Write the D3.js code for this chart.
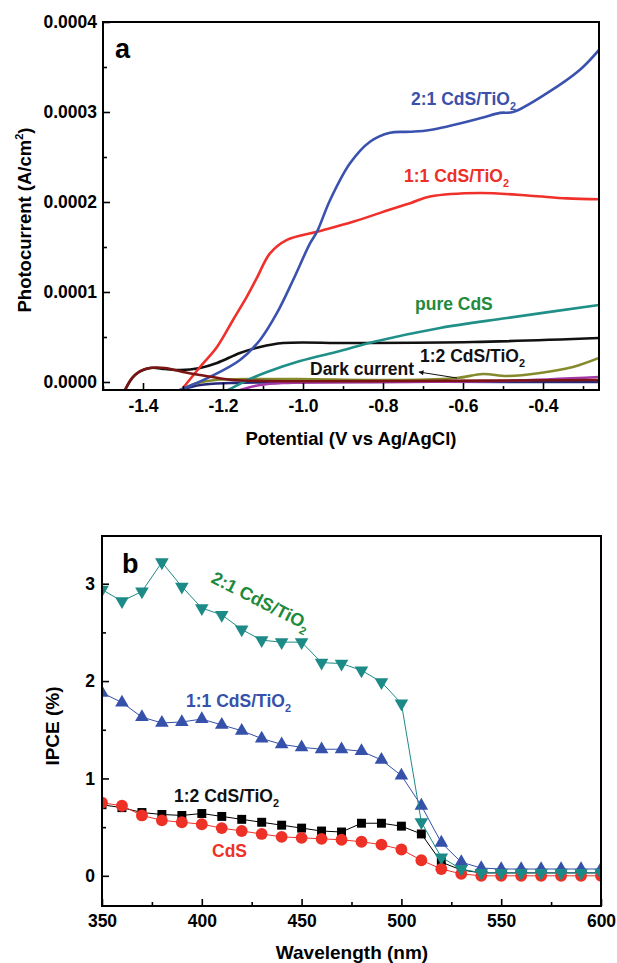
<!DOCTYPE html>
<html>
<head>
<meta charset="utf-8">
<script src="https://cdn.jsdelivr.net/npm/d3@7"></script>
<style>
  body { margin: 0; background: #fff; }
  svg text { font-family: "Liberation Sans", Arial, sans-serif; font-weight: bold; }
</style>
</head>
<body>
<svg width="617" height="963"></svg>
<script>
// ---- panel a: photocurrent vs potential, points are [V vs Ag/AgCl, A/cm2]
const ratio21Curve = [
  [-1.3075, -0.0000089], [-1.2325, 0.0000056], [-1.1575, 0.0000244], [-1.1075, 0.0000467],
  [-1.065, 0.0000767], [-1.025, 0.000113], [-0.9825, 0.000154], [-0.965, 0.000167],
  [-0.9325, 0.000202], [-0.8825, 0.000243], [-0.8325, 0.000267], [-0.7825, 0.000277],
  [-0.7325, 0.000278], [-0.6825, 0.00028], [-0.5575, 0.000293], [-0.5075, 0.000299],
  [-0.475, 0.0003], [-0.39, 0.000321], [-0.3075, 0.000347], [-0.26, 0.000369]
];
const ratio11Curve = [
  [-1.3, -0.0000067], [-1.2575, 0.0000167], [-1.215, 0.0000389], [-1.175, 0.0000689],
  [-1.14, 0.0000951], [-1.115, 0.000116], [-1.0825, 0.000143], [-1.04, 0.000158],
  [-0.965, 0.000167], [-0.875, 0.000178], [-0.78, 0.000192], [-0.73, 0.000199],
  [-0.6825, 0.000206], [-0.5575, 0.00021], [-0.4325, 0.000207], [-0.34, 0.000204],
  [-0.26, 0.000203]
];
const pureCdsCurve = [
  [-1.1875, -0.0000089], [-1.1575, -0.000002], [-1.1325, 0.0000033], [-1.09, 0.0000111],
  [-1.0075, 0.0000233], [-0.9075, 0.0000344], [-0.825, 0.0000444], [-0.6575, 0.00006],
  [-0.49, 0.0000711], [-0.26, 0.0000856]
];
const blackCurve = [
  [-1.445, -0.0000089], [-1.42, 0.0000078], [-1.3825, 0.0000156], [-1.345, 0.0000144],
  [-1.3075, 0.0000133], [-1.2575, 0.0000156], [-1.215, 0.0000211], [-1.1575, 0.0000322],
  [-1.1075, 0.0000389], [-1.05, 0.0000433], [-0.8825, 0.0000433], [-0.575, 0.0000444],
  [-0.26, 0.0000489]
];
const ratio12Curve = [
  [-1.3075, -0.0000089], [-1.27, -0.000002], [-1.22, 0.0000022], [-1.1075, 0.0000033],
  [-1.0075, 0.0000033], [-0.7575, 0.0000022], [-0.615, 0.0000044], [-0.55, 0.0000089],
  [-0.49, 0.0000067], [-0.4075, 0.00001], [-0.325, 0.0000167], [-0.26, 0.0000267]
];
const darkNavyCurve = [
  [-1.3075, -0.0000089], [-1.2575, -0.0000033], [-1.1825, -0.0000011], [-1.0, 0], [-0.26, 0]
];
const darkPurpleCurve = [
  [-1.1575, -0.0000089], [-1.1075, -0.0000033], [-1.05, -0.0000011], [-0.7575, 0],
  [-0.5075, 0.0000011], [-0.26, 0.0000056]
];
const darkMaroonCurve = [
  [-1.445, -0.0000089], [-1.4275, 0.0000044], [-1.4075, 0.0000122], [-1.3825, 0.0000156],
  [-1.345, 0.0000156], [-1.3, 0.0000111], [-1.2575, 0.0000078], [-1.175, 0.0000022],
  [-1.09, 0.0000011], [-0.7575, 0.0000011], [-0.26, 0.0000022]
];
const potentialTicks = [-1.4, -1.2, -1.0, -0.8, -0.6, -0.4];
const potentialMinor = [-1.5, -1.3, -1.1, -0.9, -0.7, -0.5, -0.3];
const currentTicks = [0, 0.0001, 0.0002, 0.0003, 0.0004];
const currentMinor = [0.00005, 0.00015, 0.00025, 0.00035];

// ---- panel b: IPCE vs wavelength
const wavelengths = [350, 360, 370, 380, 390, 400, 410, 420, 430, 440, 450, 460, 470,
  480, 490, 500, 510, 520, 530, 540, 550, 560, 570, 580, 590, 600];
const ipce21 = [2.94, 2.82, 2.92, 3.22, 2.97, 2.75, 2.68, 2.53, 2.42, 2.40, 2.40, 2.19, 2.18,
  2.11, 1.99, 1.77, 0.55, 0.19, 0.07, 0.03, 0.03, 0.03, 0.03, 0.03, 0.03, 0.03];
const ipce11 = [1.88, 1.78, 1.63, 1.57, 1.58, 1.61, 1.55, 1.49, 1.41, 1.35, 1.32, 1.30, 1.30,
  1.28, 1.19, 1.03, 0.72, 0.34, 0.14, 0.08, 0.07, 0.07, 0.07, 0.07, 0.07, 0.07];
const ipce12 = [0.73, 0.70, 0.65, 0.63, 0.62, 0.64, 0.61, 0.58, 0.55, 0.52, 0.49, 0.46, 0.45,
  0.54, 0.54, 0.51, 0.43, 0.14, 0.06, 0.03, 0.03, 0.03, 0.03, 0.03, 0.03, 0.03];
const ipceCds = [0.75, 0.72, 0.62, 0.57, 0.55, 0.53, 0.49, 0.46, 0.43, 0.40, 0.39, 0.38, 0.37,
  0.35, 0.32, 0.27, 0.16, 0.07, 0.02, 0.0, 0.0, 0.0, 0.0, 0.0, 0.0, 0.0];
const wavelengthTicks = [350, 400, 450, 500, 550, 600];
const wavelengthMinor = [375, 425, 475, 525, 575];
const ipceTicks = [0, 1, 2, 3];
const ipceMinor = [0.5, 1.5, 2.5];

const FONT = "'Liberation Sans', Arial, sans-serif";
const svg = d3.select("svg");
const defs = svg.append("defs");

// draws ticks pointing into the plot, no domain line (frame is drawn separately)
function addAxis(axis, pos, fontSize) {
  const g = svg.append("g")
    .attr("transform", pos)
    .call(axis)
    .attr("font-size", fontSize)
    .attr("font-family", FONT);
  g.select(".domain").remove();
  g.selectAll(".tick line").attr("stroke-width", 1.6);
  return g;
}

function addLabel(x, y, main, sub, color, size, rotate) {
  const t = svg.append("text")
    .attr("transform", `translate(${x},${y})` + (rotate ? ` rotate(${rotate})` : ""))
    .attr("fill", color)
    .attr("font-size", size)
    .text(main);
  if (sub) {
    t.append("tspan").attr("font-size", size * 0.62).attr("dy", 5).text(sub);
  }
  return t;
}

// ================= panel a =================
const xA = d3.scaleLinear().domain([-1.5, -0.26]).range([103, 599]);
const yA = d3.scaleLinear().domain([-0.0000089, 0.0004]).range([390, 22]);

defs.append("clipPath").attr("id", "clipA")
  .append("rect").attr("x", 103).attr("y", 22).attr("width", 496).attr("height", 368);

const lineA = d3.line()
  .x(d => xA(d[0]))
  .y(d => yA(d[1]))
  .curve(d3.curveCatmullRom.alpha(0.5));

const seriesA = [
  { data: darkNavyCurve, color: "#26287a" },
  { data: darkPurpleCurve, color: "#a43aa8" },
  { data: ratio12Curve, color: "#858a2c" },
  { data: blackCurve, color: "#111111" },
  { data: pureCdsCurve, color: "#1f8f88" },
  { data: ratio11Curve, color: "#f0302a" },
  { data: ratio21Curve, color: "#3a52ae" },
  { data: darkMaroonCurve, color: "#7c1414" }
];

svg.append("g").attr("clip-path", "url(#clipA)")
  .selectAll("path")
  .data(seriesA)
  .enter()
  .append("path")
  .attr("d", d => lineA(d.data))
  .attr("fill", "none")
  .attr("stroke", d => d.color)
  .attr("stroke-width", 2.6)
  .attr("stroke-linejoin", "round");

addAxis(d3.axisBottom(xA).tickValues(potentialTicks).tickSizeInner(-7).tickSizeOuter(0)
  .tickPadding(10).tickFormat(d => d.toFixed(1)), "translate(0,390)", 17.5);
addAxis(d3.axisBottom(xA).tickValues(potentialMinor).tickSizeInner(-4).tickSizeOuter(0)
  .tickFormat(""), "translate(0,390)", 17.5);
addAxis(d3.axisLeft(yA).tickValues(currentTicks).tickSizeInner(-7).tickSizeOuter(0)
  .tickPadding(6).tickFormat(d => d.toFixed(4)), "translate(103,0)", 17.5);
addAxis(d3.axisLeft(yA).tickValues(currentMinor).tickSizeInner(-4).tickSizeOuter(0)
  .tickFormat(""), "translate(103,0)", 17.5);

svg.append("rect").attr("x", 103).attr("y", 22).attr("width", 496).attr("height", 368)
  .attr("fill", "none").attr("stroke", "#000").attr("stroke-width", 2);

const yTitleA = svg.append("text")
  .attr("transform", "translate(31,220) rotate(-90)")
  .attr("text-anchor", "middle")
  .attr("font-size", 18.5)
  .text("Photocurrent (A/cm");
yTitleA.append("tspan").attr("font-size", 11).attr("dy", -8).text("2");
yTitleA.append("tspan").attr("dy", 8).text(")");

svg.append("text").attr("x", 351).attr("y", 445).attr("text-anchor", "middle")
  .attr("font-size", 18.5).text("Potential (V vs Ag/AgCl)");

svg.append("text").attr("x", 115).attr("y", 58).attr("font-size", 27).text("a");

addLabel(411, 105, "2:1 CdS/TiO", "2", "#3a50aa", 17.5);
addLabel(404, 182, "1:1 CdS/TiO", "2", "#ec3028", 17.5);
addLabel(415, 310, "pure CdS", null, "#23893c", 17.5);
addLabel(420, 362, "1:2 CdS/TiO", "2", "#111", 17.5);
addLabel(310, 375, "Dark current", null, "#111", 17.5);

defs.append("marker")
  .attr("id", "arrowHeadEnd").attr("viewBox", "0 0 10 10")
  .attr("refX", 9).attr("refY", 5)
  .attr("markerWidth", 8).attr("markerHeight", 5).attr("orient", "auto")
  .append("path").attr("d", "M0,0 L10,5 L0,10 Z").attr("fill", "#111");
svg.append("line")
  .attr("x1", 457).attr("y1", 378).attr("x2", 419).attr("y2", 372)
  .attr("stroke", "#111").attr("stroke-width", 1)
  .attr("marker-end", "url(#arrowHeadEnd)");

// ================= panel b =================
const xB = d3.scaleLinear().domain([350, 600]).range([102, 601]);
const yB = d3.scaleLinear().domain([-0.31, 3.49]).range([906, 536]);

defs.append("clipPath").attr("id", "clipB")
  .append("rect").attr("x", 102).attr("y", 536).attr("width", 499).attr("height", 370);

const seriesB = [
  { values: ipce12, color: "#000000", symbol: d3.symbolSquare, size: 80, rot: 0 },
  { values: ipceCds, color: "#ee3126", symbol: d3.symbolCircle, size: 110, rot: 0 },
  { values: ipce11, color: "#3551aa", symbol: d3.symbolTriangle, size: 80, rot: 0 },
  { values: ipce21, color: "#1c8a86", symbol: d3.symbolTriangle, size: 80, rot: 180 }
];

const lineB = d3.line()
  .x((d, i) => xB(wavelengths[i]))
  .y(d => yB(d));

const plotB = svg.append("g").attr("clip-path", "url(#clipB)");

seriesB.forEach(s => {
  plotB.append("path")
    .attr("d", lineB(s.values))
    .attr("fill", "none")
    .attr("stroke", s.color)
    .attr("stroke-width", 1);
  plotB.selectAll(null)
    .data(s.values)
    .enter()
    .append("path")
    .attr("d", d3.symbol().type(s.symbol).size(s.size))
    .attr("transform", (d, i) => `translate(${xB(wavelengths[i])},${yB(d)}) rotate(${s.rot})`)
    .attr("fill", s.color);
});

addAxis(d3.axisBottom(xB).tickValues(wavelengthTicks).tickSizeInner(-7).tickSizeOuter(0)
  .tickPadding(9).tickFormat(d3.format("d")), "translate(0,906)", 17.5);
addAxis(d3.axisBottom(xB).tickValues(wavelengthMinor).tickSizeInner(-4).tickSizeOuter(0)
  .tickFormat(""), "translate(0,906)", 17.5);
addAxis(d3.axisLeft(yB).tickValues(ipceTicks).tickSizeInner(-7).tickSizeOuter(0)
  .tickPadding(7).tickFormat(d3.format("d")), "translate(102,0)", 17.5);
addAxis(d3.axisLeft(yB).tickValues(ipceMinor).tickSizeInner(-4).tickSizeOuter(0)
  .tickFormat(""), "translate(102,0)", 17.5);

svg.append("rect").attr("x", 102).attr("y", 536).attr("width", 499).attr("height", 370)
  .attr("fill", "none").attr("stroke", "#000").attr("stroke-width", 2);

svg.append("text")
  .attr("transform", "translate(59,726) rotate(-90)")
  .attr("text-anchor", "middle")
  .attr("font-size", 19)
  .text("IPCE (%)");

svg.append("text").attr("x", 352).attr("y", 959).attr("text-anchor", "middle")
  .attr("font-size", 19).text("Wavelength (nm)");

svg.append("text").attr("x", 122).attr("y", 573).attr("font-size", 27).text("b");

addLabel(210, 582, "2:1 CdS/TiO", "2", "#1e8a3c", 18, 27);
addLabel(186, 707, "1:1 CdS/TiO", "2", "#3551aa", 17.5);
addLabel(174, 802, "1:2 CdS/TiO", "2", "#111", 17.5);
addLabel(212, 857, "CdS", null, "#ee3126", 17.5);
</script>
</body>
</html>
